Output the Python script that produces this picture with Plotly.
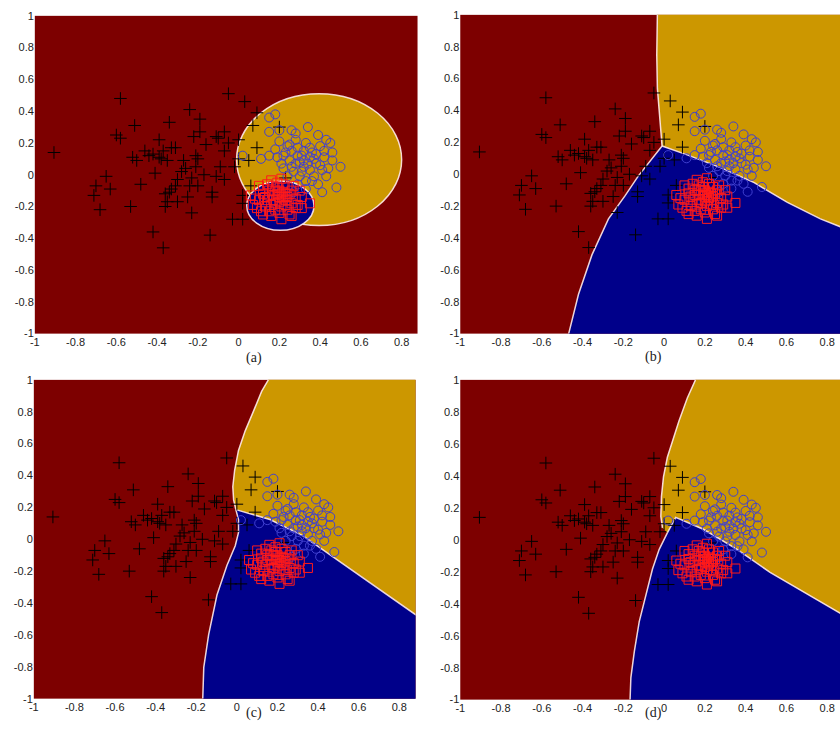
import plotly.graph_objects as go

# ---------------- data ----------------
plus_x = [-0.906, -0.58, -0.60, -0.58, -0.51, -0.52, -0.50, -0.46, -0.42, -0.39, -0.39, -0.38,
          -0.34, -0.37, -0.33, -0.31, -0.35, -0.24, -0.19, -0.19, -0.22, -0.21, -0.20, -0.27,
          -0.26, -0.21, -0.23, -0.30, -0.31, -0.36, -0.34, -0.35, -0.36, -0.30, -0.24, -0.20,
          -0.23, -0.13, -0.13, -0.41, -0.48, -0.65, -0.63, -0.70, -0.71, -0.68, -0.53, -0.42,
          -0.37, -0.14, -0.05, 0.03, -0.07, -0.11, -0.10, -0.07, -0.09, -0.11, -0.07, 0.00,
          0.00, 0.05, 0.09, 0.07, 0.09, -0.02, 0.06, 0.02, 0.02, -0.03, 0.02, 0.20,
          0.23, -0.28, -0.25, -0.16, -0.44, -0.33, -0.05, -0.17]
plus_y = [0.14, 0.48, 0.25, 0.23, 0.31, 0.11, 0.09, 0.15, 0.13, 0.22, 0.11, 0.10,
          0.33, 0.15, 0.17, 0.17, 0.09, 0.41, 0.35, 0.27, 0.24, 0.12, 0.10, 0.09,
          0.04, 0.05, -0.02, -0.03, -0.07, -0.12, -0.11, -0.17, -0.20, -0.17, -0.07, -0.07,
          -0.24, -0.11, -0.14, 0.01, -0.06, -0.01, -0.09, -0.07, -0.13, -0.22, -0.20, -0.36,
          -0.46, -0.38, 0.51, 0.46, 0.27, 0.24, 0.23, 0.15, 0.05, -0.01, -0.03, 0.22,
          0.10, 0.09, 0.17, 0.31, 0.39, 0.05, -0.07, -0.13, -0.18, -0.28, -0.28, 0.30,
          -0.02, 0.02, -0.14, 0.19, 0.12, -0.09, 0.20, 0.00]

circle_x = [0.15, 0.18, 0.15, 0.20, 0.26, 0.28, 0.34, 0.39, 0.43, 0.45, 0.46, 0.50, 0.48, 0.41,
            0.43, 0.39, 0.20, 0.24, 0.28, 0.32, 0.35, 0.15, 0.19, 0.22, 0.25, 0.28, 0.32, 0.35,
            0.38, 0.42, 0.27, 0.30, 0.33, 0.37, 0.41, 0.29, 0.33, 0.26, 0.29, 0.32, 0.36, 0.40,
            0.11, 0.02, 0.21, 0.24, 0.27, 0.46, 0.31, 0.34, 0.37, 0.30, 0.23, 0.26, 0.35, 0.38,
            0.40, 0.44, 0.31, 0.33, 0.29, 0.36, 0.42, 0.18, 0.22, 0.25]
circle_y = [0.36, 0.38, 0.27, 0.28, 0.28, 0.26, 0.30, 0.25, 0.22, 0.20, 0.14, 0.05, -0.08, -0.11,
            -0.01, -0.06, 0.21, 0.18, 0.22, 0.15, 0.11, 0.12, 0.11, 0.12, 0.09, 0.07, 0.05, 0.03,
            0.07, 0.11, 0.02, -0.01, -0.04, -0.01, 0.03, -0.06, -0.09, 0.15, 0.12, 0.09, 0.14, 0.18,
            0.10, 0.12, 0.07, -0.01, -0.11, 0.09, 0.12, 0.07, 0.10, 0.08, 0.14, 0.05, 0.17, 0.13,
            0.06, 0.04, 0.02, 0.20, 0.17, -0.04, 0.15, 0.16, 0.04, 0.19]

square_x = [0.35, 0.31, 0.26, 0.21, 0.16, 0.12, 0.07, 0.06, 0.10, 0.16, 0.21, 0.27, 0.31,
            0.12, 0.14, 0.15, 0.17, 0.18, 0.19, 0.20, 0.21, 0.22, 0.23, 0.24, 0.25, 0.26,
            0.18, 0.13, 0.10, 0.09, 0.15, 0.20, 0.24, 0.28, 0.28, 0.19, 0.14, 0.22, 0.17,
            0.20, 0.22, 0.19, 0.21, 0.23, 0.16, 0.18, 0.12, 0.25, 0.30, 0.29, 0.11, 0.08,
            0.13, 0.24, 0.20, 0.17, 0.26, 0.15, 0.23]
square_y = [-0.18, -0.21, -0.26, -0.28, -0.26, -0.25, -0.19, -0.13, -0.07, -0.035, -0.025, -0.07, -0.14,
            -0.12, -0.16, -0.10, -0.13, -0.18, -0.08, -0.14, -0.20, -0.11, -0.16, -0.22, -0.12, -0.18,
            -0.22, -0.20, -0.16, -0.21, -0.23, -0.24, -0.08, -0.15, -0.21, -0.05, -0.06, -0.06, -0.16,
            -0.17, -0.15, -0.12, -0.13, -0.19, -0.19, -0.10, -0.09, -0.25, -0.10, -0.19, -0.23, -0.15,
            -0.14, -0.14, -0.10, -0.07, -0.10, -0.13, -0.12]

# panel (a): elliptical regions (x0, x1, y0, y1)
gold_ellipse_a = [-0.01, 0.80, -0.32, 0.51]
blue_ellipse_a = [0.04, 0.37, -0.35, -0.04]

# panels (b)-(d): boundaries  red/gold (top -> junction), red/blue (junction -> bottom), blue/gold (junction -> right)
b_rg_x = [-0.033, -0.036, -0.033, -0.026, -0.016, -0.010]
b_rg_y = [1.0, 0.75, 0.54, 0.42, 0.27, 0.177]
b_rb_x = [-0.010, -0.062, -0.127, -0.192, -0.273, -0.354, -0.42, -0.468]
b_rb_y = [0.177, 0.09, -0.012, -0.136, -0.28, -0.506, -0.753, -1.0]
b_bg_x = [-0.010, 0.117, 0.28, 0.442, 0.605, 0.767, 0.865, 1.0]
b_bg_y = [0.177, 0.12, 0.04, -0.053, -0.177, -0.28, -0.33, -0.40]

c_rg_x = [0.155, 0.122, 0.082, 0.041, 0.008, -0.011, -0.020, -0.016, -0.005]
c_rg_y = [1.0, 0.928, 0.804, 0.68, 0.557, 0.433, 0.33, 0.247, 0.186]
c_rb_x = [-0.005, 0.008, 0.008, -0.008, -0.049, -0.098, -0.139, -0.163, -0.168]
c_rb_y = [0.186, 0.124, 0.041, -0.041, -0.165, -0.35, -0.598, -0.804, -1.0]
c_bg_x = [-0.005, 0.163, 0.326, 0.489, 0.653, 0.881, 1.0]
c_bg_y = [0.186, 0.124, 0.021, -0.124, -0.268, -0.474, -0.56]

d_rg_x = [0.154, 0.114, 0.073, 0.041, 0.016, -0.003, -0.013, -0.016, -0.008]
d_rg_y = [1.0, 0.887, 0.743, 0.619, 0.516, 0.393, 0.27, 0.146, 0.074]
d_rb_x = [0.016, -0.024, -0.057, -0.089, -0.122, -0.146, -0.163, -0.167]
d_rb_y = [0.043, -0.06, -0.183, -0.348, -0.512, -0.698, -0.862, -1.0]
d_bg_x = [0.057, 0.195, 0.358, 0.52, 0.683, 0.862, 1.0]
d_bg_y = [0.14, 0.064, -0.06, -0.204, -0.327, -0.46, -0.56]

x_ticks = [-1, -0.8, -0.6, -0.4, -0.2, 0, 0.2, 0.4, 0.6, 0.8]
x_tick_text = ["-1", "-0.8", "-0.6", "-0.4", "-0.2", "0", "0.2", "0.4", "0.6", "0.8"]
y_ticks = [-1, -0.8, -0.6, -0.4, -0.2, 0, 0.2, 0.4, 0.6, 0.8, 1]
y_tick_text = ["-1", "-0.8", "-0.6", "-0.4", "-0.2", "0", "0.2", "0.4", "0.6", "0.8", "1"]
captions = ["(a)", "(b)", "(c)", "(d)"]

# ---------------- styling ----------------
RED = "#7d0000"
GOLD = "#cc9700"
BLUE = "#00008a"
EDGE = "rgba(255,235,235,0.9)"
W, H = 840, 744

# panel pixel boxes: left, right, top, bottom
boxes = [(30, 415, 10, 333), (458, 840, 9, 333), (29, 413, 380, 704), (458, 840, 380, 705)]
xranges = [[-1, 0.878], [-1, 0.863], [-1, 0.88], [-1, 0.863]]

fig = go.Figure()
layout = dict(width=W, height=H, margin=dict(l=0, r=0, t=0, b=0),
              paper_bgcolor="white", plot_bgcolor=RED, showlegend=False)

for i, (l, r, t, b) in enumerate(boxes):
    sfx = "" if i == 0 else str(i + 1)
    layout["xaxis" + sfx] = dict(domain=[l / W, r / W], range=xranges[i], anchor="y" + sfx,
                                 tickvals=x_ticks, ticktext=x_tick_text, showgrid=False,
                                 zeroline=False, showline=False, ticks="",
                                 tickfont=dict(family="Liberation Sans", size=11, color="#222"))
    layout["yaxis" + sfx] = dict(domain=[1 - b / H, 1 - t / H], range=[-1, 1], anchor="x" + sfx,
                                 tickvals=y_ticks, ticktext=y_tick_text, showgrid=False,
                                 zeroline=False, showline=False, ticks="",
                                 tickfont=dict(family="Liberation Sans", size=11, color="#222"))

fig.update_layout(**layout)

# panel (a) ellipses
shapes = []
for ell, col in [(gold_ellipse_a, GOLD), (blue_ellipse_a, BLUE)]:
    shapes.append(dict(type="circle", xref="x", yref="y", x0=ell[0], x1=ell[1], y0=ell[2], y1=ell[3],
                       fillcolor=col, line=dict(color=EDGE, width=1.5), layer="below"))
fig.update_layout(shapes=shapes)


def add_regions(ax, rg_x, rg_y, rb_x, rb_y, bg_x, bg_y):
    xa = "x" + ax
    ya = "y" + ax
    gx = rg_x + rb_x[:1] + bg_x + [1.2, 1.2, rg_x[0]]
    gy = rg_y + rb_y[:1] + bg_y + [bg_y[-1], 1.2, 1.2]
    fig.add_trace(go.Scatter(x=gx, y=gy, fill="toself", fillcolor=GOLD, mode="none",
                             xaxis=xa, yaxis=ya, hoverinfo="skip"))
    bx = rb_x[:1] + bg_x + [1.2, 1.2, rb_x[-1]] + rb_x[::-1]
    by = rb_y[:1] + bg_y + [bg_y[-1], -1.2, -1.2] + rb_y[::-1]
    fig.add_trace(go.Scatter(x=bx, y=by, fill="toself", fillcolor=BLUE, mode="none",
                             xaxis=xa, yaxis=ya, hoverinfo="skip"))
    for lx, ly in [(rg_x, rg_y), (rb_x, rb_y), (rb_x[:1] + bg_x, rb_y[:1] + bg_y)]:
        fig.add_trace(go.Scatter(x=lx, y=ly, mode="lines", line=dict(color=EDGE, width=1.5),
                                 xaxis=xa, yaxis=ya, hoverinfo="skip"))


add_regions("2", b_rg_x, b_rg_y, b_rb_x, b_rb_y, b_bg_x, b_bg_y)
add_regions("3", c_rg_x, c_rg_y, c_rb_x, c_rb_y, c_bg_x, c_bg_y)
add_regions("4", d_rg_x, d_rg_y, d_rb_x, d_rb_y, d_bg_x, d_bg_y)

for i in range(4):
    sfx = "" if i == 0 else str(i + 1)
    fig.add_trace(go.Scatter(x=plus_x, y=plus_y, mode="markers", xaxis="x" + sfx, yaxis="y" + sfx,
                             marker=dict(symbol="cross-thin", size=9, line=dict(color="black", width=1))))
    fig.add_trace(go.Scatter(x=circle_x, y=circle_y, mode="markers", xaxis="x" + sfx, yaxis="y" + sfx,
                             marker=dict(symbol="circle-open", size=9, color="#4040d0",
                                         line=dict(color="#4040d0", width=1))))
    fig.add_trace(go.Scatter(x=square_x, y=square_y, mode="markers", xaxis="x" + sfx, yaxis="y" + sfx,
                             marker=dict(symbol="square-open", size=9, color="#ff1a1a",
                                         line=dict(color="#ff1a1a", width=1))))

cap_pos = [(240, 358), (663, 357), (240, 729), (663, 729)]
for txt, (cx, cy) in zip(captions, cap_pos):
    fig.add_annotation(text=txt, x=cx / W, y=1 - cy / H, xref="paper", yref="paper",
                       showarrow=False, font=dict(family="Liberation Serif", size=14, color="#222"))

fig.write_html("out.html", config={"displayModeBar": False},
               post_script="document.body.style.margin='0';document.body.style.overflow='hidden';")
